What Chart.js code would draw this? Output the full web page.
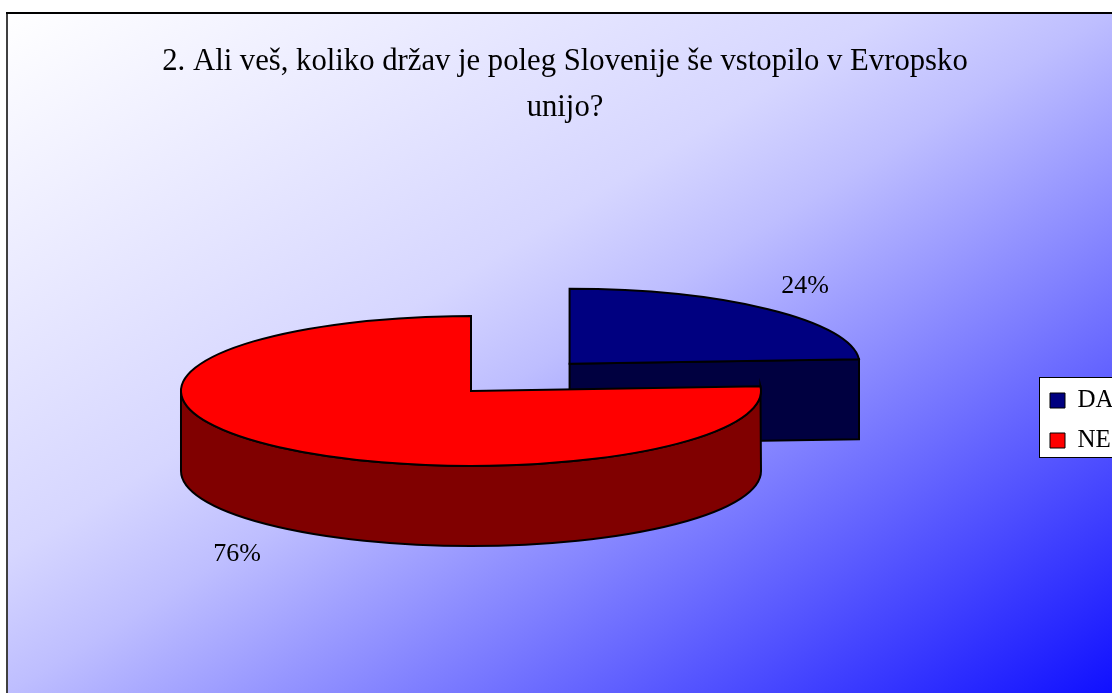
<!DOCTYPE html>
<html>
<head>
<meta charset="utf-8">
<style>
  html, body { margin: 0; padding: 0; background: #fff; overflow: hidden; }
  #wrap { width: 1112px; height: 693px; }
</style>
<script src="https://cdn.jsdelivr.net/npm/chart.js@4/dist/chart.umd.js"></script>
</head>
<body>
<div id="wrap"><canvas id="pieCanvas" width="1112" height="693"></canvas></div>
<script>
const categories = ["DA", "NE"];
const values = [24, 76];
const topColors = ["#000080", "#ff0000"];
const wallColors = ["#000040", "#800000"];
const titleLines = ["2. Ali veš, koliko držav je poleg Slovenije še vstopilo v Evropsko", "unijo?"];

// pie is drawn flat by Chart.js, then squashed to look like the 3D one
const centerX = 471;
const centerY = 391;
const squash = 0.2586;
const depth = 80;
const labelSpots = [[805, 286], [237, 554]];

function sliceCenter(arc) {
    const mid = (arc.startAngle + arc.endAngle) / 2;
    const off = (arc.options.offset || 0) / 4;
    return {
        x: centerX + Math.cos(mid) * off,
        y: centerY + Math.sin(mid) * off * squash
    };
}

const pie3d = {
    id: "pie3d",
    beforeDraw(chart) {
        const ctx = chart.ctx;
        const g = ctx.createLinearGradient(7, 12, 615, 999);
        g.addColorStop(0, "#ffffff");
        g.addColorStop(0.4, "#d6d6ff");
        g.addColorStop(0.5, "#bebeff");
        g.addColorStop(1, "#1010ff");
        ctx.save();
        ctx.fillStyle = g;
        ctx.fillRect(7, 12, 1105, 681);
        ctx.fillStyle = "#404040";
        ctx.fillRect(6, 12, 2, 681);
        ctx.fillStyle = "#000000";
        ctx.fillRect(6, 12, 1106, 2);
        // white legend frame, cut off by the right edge
        ctx.fillStyle = "#ffffff";
        ctx.strokeStyle = "#000000";
        ctx.lineWidth = 1;
        ctx.fillRect(1039.5, 377.5, 80, 80);
        ctx.strokeRect(1039.5, 377.5, 80, 80);
        ctx.restore();
    },
    beforeDatasetsDraw(chart) {
        const ctx = chart.ctx;
        const arcs = chart.getDatasetMeta(0).data;
        ctx.save();
        ctx.lineWidth = 2;
        ctx.strokeStyle = "#000000";
        arcs.forEach(function (arc, i) {
            const c = sliceCenter(arc);
            const r = arc.outerRadius;
            ctx.fillStyle = wallColors[i];
            ctx.beginPath();
            if (i === 0) {
                // cut face of the pulled out slice
                const px = c.x + Math.cos(arc.endAngle) * r;
                const py = c.y + Math.sin(arc.endAngle) * r * squash;
                ctx.moveTo(c.x, c.y);
                ctx.lineTo(px, py);
                ctx.lineTo(px, py + depth);
                ctx.lineTo(c.x, c.y + depth);
            } else {
                ctx.ellipse(c.x, c.y, r, r * squash, 0, arc.startAngle, Math.PI);
                ctx.lineTo(c.x - r, c.y + depth);
                ctx.ellipse(c.x, c.y + depth, r, r * squash, 0, Math.PI, 0, true);
            }
            ctx.closePath();
            ctx.fill();
            ctx.stroke();
        });
        ctx.restore();

        ctx.save();
        ctx.translate(centerX, centerY);
        ctx.scale(1, squash);
        ctx.translate(-arcs[1].x, -arcs[1].y);
    },
    afterDatasetsDraw(chart) {
        const ctx = chart.ctx;
        ctx.restore();
        const arcs = chart.getDatasetMeta(0).data;
        ctx.save();
        ctx.lineWidth = 2;
        ctx.strokeStyle = "#000000";
        arcs.forEach(function (arc) {
            const c = sliceCenter(arc);
            ctx.beginPath();
            ctx.moveTo(c.x, c.y);
            ctx.ellipse(c.x, c.y, arc.outerRadius, arc.outerRadius * squash, 0, arc.startAngle, arc.endAngle);
            ctx.closePath();
            ctx.stroke();
        });
        // percent labels
        ctx.fillStyle = "#000000";
        ctx.font = "26px 'Liberation Serif'";
        ctx.textAlign = "center";
        ctx.textBaseline = "middle";
        const total = values.reduce(function (a, b) { return a + b; }, 0);
        values.forEach(function (v, i) {
            ctx.fillText(Math.round(v / total * 100) + "%", labelSpots[i][0], labelSpots[i][1]);
        });
        ctx.restore();
    },
    afterLayout(chart) {
        const legend = chart.legend;
        legend.left = 1035;
        legend.right = 1200;
        legend.top = 373;
        legend.bottom = 693;
    }
};

new Chart(document.getElementById("pieCanvas"), {
    type: "pie",
    data: {
        labels: categories,
        datasets: [{
            data: values,
            backgroundColor: topColors,
            borderWidth: 0,
            offset: [576, 0],
            hoverOffset: 0,
            clip: false
        }]
    },
    options: {
        responsive: false,
        animation: false,
        events: [],
        radius: 290,
        cutout: "0%",
        layout: { padding: { left: 18 } },
        plugins: {
            tooltip: { enabled: false },
            title: {
                display: true,
                text: titleLines,
                color: "#000000",
                font: { family: "'Liberation Serif'", size: 30.7, weight: "normal", lineHeight: 1.5 },
                padding: { top: 39, bottom: 0 }
            },
            legend: {
                position: "chartArea",
                align: "start",
                labels: {
                    boxWidth: 15,
                    boxHeight: 15,
                    padding: 15,
                    color: "#000000",
                    font: { family: "'Liberation Serif'", size: 25 },
                    generateLabels(chart) {
                        return categories.map(function (name, i) {
                            return { text: name, fillStyle: topColors[i], strokeStyle: "#000000", lineWidth: 1, index: i };
                        });
                    }
                }
            }
        }
    },
    plugins: [pie3d]
});
</script>
</body>
</html>
